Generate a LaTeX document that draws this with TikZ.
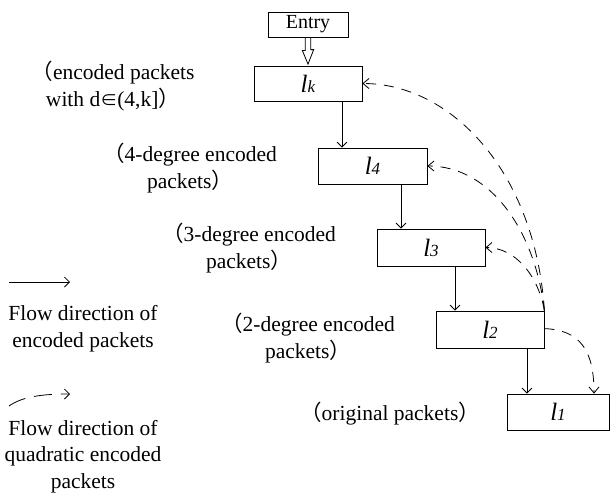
\documentclass[tikz,border=0pt]{standalone}
\usepackage{fontspec}
\setmainfont{Liberation Serif}
\newfontfamily\cjkfont{Noto Sans CJK SC}
\usetikzlibrary{arrows.meta,calc}
\newcommand{\lparcjk}{{\cjkfont （}}
\newcommand{\rparcjk}{{\cjkfont ）}}
\newcommand{\elemcjk}{{\cjkfont\fontsize{17}{17}\selectfont ∈}}
\newcommand{\lsub}[1]{{\fontsize{25}{25}\selectfont\textit{l}\fontsize{17}{17}\selectfont\textit{#1}}}
\begin{document}
\begin{tikzpicture}[x=1pt,y=-1pt,line width=0.8pt,
  box/.style={draw, inner sep=0pt, minimum width=108pt, minimum height=36pt},
  lab/.style={font=\fontsize{21.5}{26.5}\selectfont, align=center, inner sep=0pt},
  flow/.style={-{Straight Barb[length=5pt,width=10pt]}},
  qflow/.style={-{Straight Barb[length=6pt,width=10pt]}, dash pattern=on 10pt off 8pt}]
\useasboundingbox (0,0) rectangle (610,499);

% boxes
\node[draw, inner sep=0pt, minimum width=80pt, minimum height=25pt, font=\fontsize{20}{20}\selectfont] (entry) at (308,24.5) {Entry};
\node[box, minimum height=35pt] (lk) at (308,83.5) {\lsub{k}};
\node[box, minimum width=109pt] (l4) at (372.5,166) {\lsub{4}};
\node[box, minimum height=37pt] (l3) at (431,247.5) {\lsub{3}};
\node[box, minimum height=37pt] (l2) at (490,329.5) {\lsub{2}};
\node[box, minimum width=102pt] (l1) at (558,412) {\lsub{1}};

% entry hollow arrow
\draw[line join=miter] ([xshift=-2.7pt]entry.south) -- ++(0,13) -- ++(-3,0)
  -- ([yshift=1.5pt]lk.north) -- ++(5.7,-14.5) -- ++(-3,0) -- ([xshift=2.7pt]entry.south);

% solid flow
\draw[flow] ([xshift=34pt]lk.south) -- ([xshift=34pt]lk.south |- l4.north);
\draw[flow] ([xshift=28.5pt]l4.south) -- ([xshift=28.5pt]l4.south |- l3.north);
\draw[flow] ([xshift=24pt]l3.south) -- ([xshift=24pt]l3.south |- l2.north);
\draw[flow] ([xshift=37pt]l2.south) -- ([xshift=37pt]l2.south |- l1.north);

% quadratic flow
\coordinate (src) at (l2.north east);
\draw[qflow] (src) .. controls (535,170) and (450,83.5) .. (lk.east);
\draw[qflow] (src) .. controls (535,230) and (490,166) .. (l4.east);
\draw[qflow] (src) .. controls (538,275) and (515,247.5) .. (l3.east);
\draw[qflow] ([yshift=-18pt]l2.north east) .. controls (580,330) and (594,350) .. (l1.north -| 594,0);

% labels (base = baseline of last line)
\node[lab, anchor=base] (tk) at (113,106) {\lparcjk encoded packets\\with d\elemcjk(4,k]\rparcjk};
\node[lab, anchor=base] (t4) at (190,188) {\lparcjk 4-degree encoded\\packets\rparcjk};
\node[lab, anchor=base] (t3) at (249,268) {\lparcjk 3-degree encoded\\packets\rparcjk};
\node[lab, anchor=base] (t2) at (308,358) {\lparcjk 2-degree encoded\\packets\rparcjk};
\node[lab, anchor=base] (t1) at (390,420) {\lparcjk original packets\rparcjk};

% legend
\coordinate (la1) at (9,282);
\coordinate (la2) at (70,282);
\draw[flow] (la1) -- (la2);
\node[lab, anchor=base] (lt1) at (83,347) {Flow direction of\\encoded packets};
\coordinate (lb1) at (9,406);
\coordinate (lb2) at (70,394);
\draw[-{Straight Barb[length=5pt,width=10pt]}, dash pattern=on 18pt off 9pt] (lb1) .. controls (22,397) and (40,394) .. (lb2);
\node[lab, anchor=base] (lt2) at (83,488) {Flow direction of\\quadratic encoded\\packets};
\end{tikzpicture}
\end{document}
